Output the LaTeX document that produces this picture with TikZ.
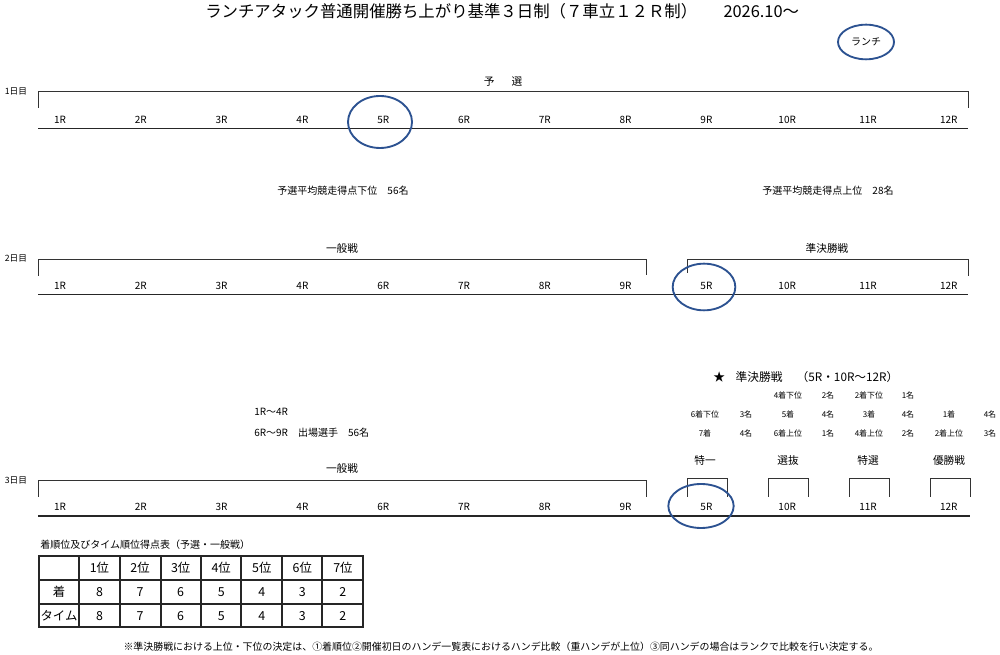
\documentclass[tikz,border=0pt]{standalone}
\usepackage{fontspec}
\setmainfont{Noto Sans CJK JP}
\usetikzlibrary{shapes.geometric}
\definecolor{eblue}{RGB}{44,82,145}
\begin{document}
\begin{tikzpicture}[x=0.75pt,y=-0.75pt,
  race/.style={inner sep=0pt,font=\fontsize{7.5}{8}\selectfont},
  small/.style={inner sep=0pt,font=\fontsize{6}{7}\selectfont},
  lab/.style={inner sep=0pt,font=\fontsize{7.5}{8}\selectfont},
  head/.style={inner sep=0pt,font=\fontsize{8}{9}\selectfont},
  cell/.style={inner sep=0pt,font=\fontsize{9.3}{10}\selectfont},
  brk/.style={line width=0.7pt,black!80},
  base/.style={line width=1pt,black!85},
  ring/.style={line width=1.4pt,eblue}]
\useasboundingbox (0,0) rectangle (1000,655);
% title
\node[inner sep=0pt,font=\fontsize{12.3}{13}\selectfont,anchor=west] (title) at (205,11)
  {ランチアタック普通開催勝ち上がり基準３日制（７車立１２Ｒ制）\hspace{1.6em}2026.10～};
\node[draw=eblue,line width=1.4pt,ellipse,inner sep=0pt,minimum width=42pt,minimum height=26pt,
  font=\fontsize{7.5}{8}\selectfont] (lunch) at (866,42) {ランチ};

% ---------- day 1 ----------
\node[lab,font=\fontsize{6.5}{7}\selectfont] (d1) at (16,91) {1日目};
\node[head] (yosen) at (503,82) {予\hspace{1.6em}選};
\draw[brk] (38,108) -- (38,91) -- (968,91) -- (968,108);
\foreach \i in {1,...,12}
  \node[race] (a\i) at ({60+(\i-1)*80.8},120) {\i R};
\draw[base] (38,128.5) -- (968,128.5);
\draw[ring] (380,122) ellipse [x radius=24pt,y radius=19.5pt];

% ---------- middle texts ----------
\node[lab] (low56) at (343,191) {予選平均競走得点下位　56名};
\node[lab] (up28) at (828,191) {予選平均競走得点上位　28名};

% ---------- day 2 ----------
\node[lab,font=\fontsize{6.5}{7}\selectfont] (d2) at (16,258) {2日目};
\node[head] (ippan2) at (342,248) {一般戦};
\node[head] (jun2) at (827,248) {準決勝戦};
\draw[brk] (38,276) -- (38,259) -- (646,259) -- (646,275);
\draw[brk] (687,273) -- (687,259) -- (968,259) -- (968,276);
\foreach \r [count=\i] in {1,2,3,4,6,7,8,9,5,10,11,12}
  \node[race] (b\i) at ({60+(\i-1)*80.8},286) {\r R};
\draw[base] (38,294.5) -- (968,294.5);
\draw[ring] (704,287) ellipse [x radius=23.5pt,y radius=17.5pt];

% ---------- day 3 header texts ----------
\node[lab,anchor=west] (t14) at (254,412) {1R～4R};
\node[lab,anchor=west] (t69) at (254,433) {6R～9R　出場選手　56名};
\node[inner sep=0pt,font=\fontsize{8.8}{10}\selectfont,anchor=west] (star) at (713,377)
  {★\hspace{0.9em}準決勝戦\hspace{1.2em}（5R・10R～12R）};
% rows
\node[small] (r1c3) at (788,395) {4着下位};
\node[small] (r1c4) at (828,395) {2名};
\node[small] (r1c5) at (869,395) {2着下位};
\node[small] (r1c6) at (908,395) {1名};
\node[small] (r2c1) at (705,414) {6着下位};
\node[small] (r2c2) at (746,414) {3名};
\node[small] (r2c3) at (788,414) {5着};
\node[small] (r2c4) at (828,414) {4名};
\node[small] (r2c5) at (869,414) {3着};
\node[small] (r2c6) at (908,414) {4名};
\node[small] (r2c7) at (949,414) {1着};
\node[small] (r2c8) at (990,414) {4名};
\node[small] (r3c1) at (705,433) {7着};
\node[small] (r3c2) at (746,433) {4名};
\node[small] (r3c3) at (788,433) {6着上位};
\node[small] (r3c4) at (828,433) {1名};
\node[small] (r3c5) at (869,433) {4着上位};
\node[small] (r3c6) at (908,433) {2名};
\node[small] (r3c7) at (949,433) {2着上位};
\node[small] (r3c8) at (990,433) {3名};
% final labels
\node[head] (tok1) at (705,460) {特一};
\node[head] (senb) at (788,460) {選抜};
\node[head] (toks) at (868,460) {特選};
\node[head] (yush) at (949,460) {優勝戦};

% ---------- day 3 ----------
\node[lab,font=\fontsize{6.5}{7}\selectfont] (d3) at (16,480) {3日目};
\node[head] (ippan3) at (342,468) {一般戦};
\draw[brk] (38,497) -- (38,480) -- (646,480) -- (646,497);
\foreach \x in {687,768,849,930}
  \draw[brk] (\x,497) -- (\x,478) -- (\x+40,478) -- (\x+40,497);
\foreach \r [count=\i] in {1,2,3,4,6,7,8,9,5,10,11,12}
  \node[race] (c\i) at ({60+(\i-1)*80.8},507) {\r R};
\draw[base] (38,516) -- (970,516);
\draw[ring] (701,506) ellipse [x radius=24.5pt,y radius=16.5pt];

% ---------- table ----------
\node[lab,anchor=west] (ttitle) at (40,545) {着順位及びタイム順位得点表（予選・一般戦）};
\draw[line width=0.8pt,black!85] (39,556) rectangle (363,627);
\foreach \y in {580,604}
  \draw[line width=0.8pt,black!85] (39,\y) -- (363,\y);
\foreach \x in {79,120,161,201,241,282,322}
  \draw[line width=0.8pt,black!85] (\x,556) -- (\x,627);
\foreach \lbl [count=\i] in {1,2,3,4,5,6,7}
  \node[cell] (h\i) at ({99.5+(\i-1)*40.57},568) {\lbl 位};
\node[cell] (rowA) at (59,592) {着};
\node[cell] (rowB) at (59,616) {タイム};
\foreach \v [count=\i] in {8,7,6,5,4,3,2}
  \node[cell] (pA\i) at ({99.5+(\i-1)*40.57},592) {\v};
\foreach \v [count=\i] in {8,7,6,5,4,3,2}
  \node[cell] (pB\i) at ({99.5+(\i-1)*40.57},616) {\v};

% ---------- footnote ----------
\node[inner sep=0pt,font=\fontsize{7.45}{8}\selectfont] (note) at (501,647)
  {※準決勝戦における上位・下位の決定は、①着順位②開催初日のハンデ一覧表におけるハンデ比較（重ハンデが上位）③同ハンデの場合はランクで比較を行い決定する。};
\end{tikzpicture}
\end{document}
